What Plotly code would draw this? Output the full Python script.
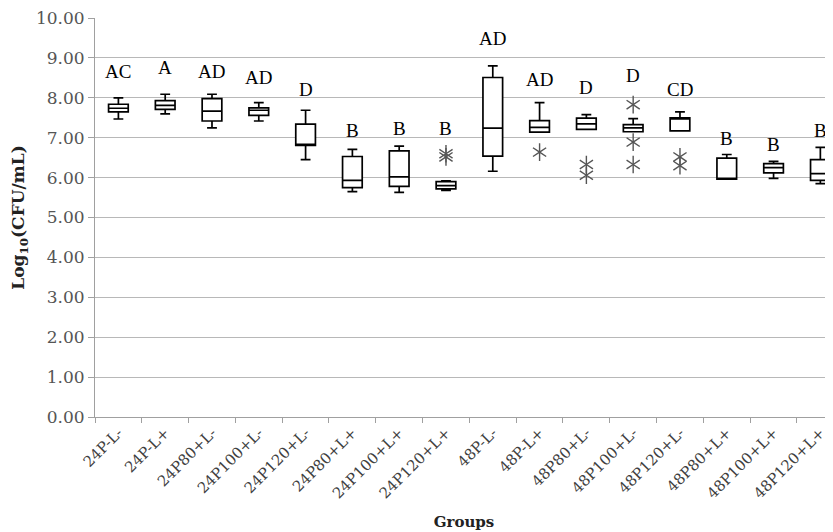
import plotly.graph_objects as go

groups = ["24P-L-", "24P-L+", "24P80+L-", "24P100+L-", "24P120+L-", "24P80+L+",
          "24P100+L+", "24P120+L+", "48P-L-", "48P-L+", "48P80+L-", "48P100+L-",
          "48P120+L-", "48P80+L+", "48P100+L+", "48P120+L+"]
lower = [7.47, 7.60, 7.25, 7.42, 6.45, 5.65, 5.63, 5.68, 6.16, 7.14, 7.21, 7.15, 7.17, 5.96, 5.98, 5.85]
q1 =    [7.65, 7.71, 7.42, 7.56, 6.81, 5.75, 5.78, 5.72, 6.54, 7.14, 7.21, 7.15, 7.17, 5.96, 6.12, 5.93]
median= [7.74, 7.81, 7.67, 7.69, 6.83, 5.93, 6.02, 5.80, 7.24, 7.26, 7.35, 7.25, 7.47, 5.98, 6.25, 6.10]
q3 =    [7.84, 7.93, 7.98, 7.75, 7.34, 6.53, 6.67, 5.90, 8.51, 7.43, 7.49, 7.33, 7.50, 6.49, 6.35, 6.45]
upper = [8.00, 8.09, 8.09, 7.88, 7.69, 6.71, 6.79, 5.92, 8.80, 7.88, 7.58, 7.48, 7.65, 6.58, 6.41, 6.76]

outlier_groups = ["24P120+L+", "24P120+L+", "48P-L+", "48P80+L-", "48P80+L-",
                  "48P100+L-", "48P100+L-", "48P100+L-", "48P120+L-", "48P120+L-"]
outlier_values = [6.60, 6.52, 6.64, 6.33, 6.06, 7.83, 6.89, 6.33, 6.52, 6.30]

letters = ["AC", "A", "AD", "AD", "D", "B", "B", "B", "AD", "AD", "D", "D", "CD", "B", "B", "B"]
letter_y = [8.67, 8.76, 8.67, 8.51, 8.22, 7.18, 7.22, 7.22, 9.50, 8.47, 8.26, 8.57, 8.22, 6.97, 6.82, 7.19]

serif = "DejaVu Serif"

fig = go.Figure()
fig.add_trace(go.Box(
    x=groups, q1=q1, median=median, q3=q3, lowerfence=lower, upperfence=upper,
    boxpoints=False, fillcolor="white", line=dict(color="black", width=1.7),
    width=0.42, whiskerwidth=0.5, showlegend=False, hoverinfo="skip"))
for sym in ["y-up-open", "y-down-open"]:
    fig.add_trace(go.Scatter(
        x=outlier_groups, y=outlier_values, mode="markers",
        marker=dict(symbol=sym, size=11, color="#555555",
                    line=dict(color="#555555", width=1.4)),
        showlegend=False, hoverinfo="skip"))

for g, t, y in zip(groups, letters, letter_y):
    fig.add_annotation(x=g, y=y, text=t, showarrow=False,
                       font=dict(family="Liberation Serif", size=19, color="black"))

fig.update_layout(
    width=825, height=524,
    margin=dict(l=87, r=0, t=6, b=115),
    plot_bgcolor="white", paper_bgcolor="white",
    xaxis=dict(
        type="category", categoryorder="array", categoryarray=groups,
        range=[-0.5, 15.27], tickangle=-45, tickson="boundaries",
        ticks="outside", ticklen=5, tickcolor="#a0a0a0",
        showline=True, linecolor="#a0a0a0", linewidth=1, showgrid=False,
        tickfont=dict(family=serif, size=15, color="#404040"),
        title=dict(text="<b>Groups</b>", font=dict(family=serif, size=15, color="#222222"),
                   standoff=15),
    ),
    yaxis=dict(
        range=[0, 10.002], tick0=0, dtick=1, tickformat=".2f",
        ticklabeloverflow="allow",
        ticks="outside", ticklen=6, tickcolor="#a0a0a0",
        showline=True, linecolor="#a0a0a0", linewidth=1,
        showgrid=True, gridcolor="#b8b8b8", gridwidth=1, zeroline=False,
        tickfont=dict(family=serif, size=17, color="#555555"),
        title=dict(text="<b>Log<sub>10</sub>(CFU/mL)</b>",
                   font=dict(family=serif, size=17, color="#222222"), standoff=16),
    ),
)

fig.write_html("out.html")
